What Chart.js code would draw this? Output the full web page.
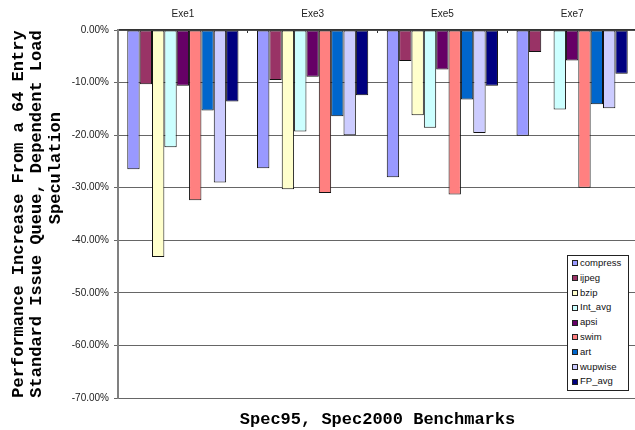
<!DOCTYPE html>
<html>
<head>
<meta charset="utf-8">
<script src="https://cdn.jsdelivr.net/npm/chart.js@4/dist/chart.umd.min.js"></script>
<style>
  html, body { margin: 0; padding: 0; background: #fff; overflow: hidden; }
  #wrap { position: relative; width: 635px; height: 430px; overflow: hidden; }
  canvas { display: block; }
  #legend {
    position: absolute; left: 567px; top: 255px; width: 56px; height: 134px;
    border: 1px solid #222; background: #fff; padding: 0 0 0 4px;
    font-family: "Liberation Sans", Arial, sans-serif; font-size: 9.5px; color: #111;
  }
  #legend .it { height: 14.8px; line-height: 14.8px; white-space: nowrap; display: flex; align-items: center; }
  #legend .sw { width: 4px; height: 4px; border: 1px solid #222; margin-right: 2px; flex: none; }
</style>
</head>
<body>
<div id="wrap">
  <canvas id="c" width="637" height="430"></canvas>
  <div id="legend"></div>
</div>
<script>
// ---- data ----
const categories = ['Exe1', 'Exe3', 'Exe5', 'Exe7'];
const seriesNames = ['compress', 'ijpeg', 'bzip', 'Int_avg', 'apsi', 'swim', 'art', 'wupwise', 'FP_avg'];
const compress = [-26.5, -26.3, -28.0, -20.1];
const ijpeg    = [-10.3, -9.5, -5.9, -4.2];
const bzip     = [-43.2, -30.3, -16.2, -0.2];
const intAvg   = [-22.3, -19.3, -18.6, -15.1];
const apsi     = [-10.6, -8.9, -7.5, -5.8];
const swim     = [-32.4, -31.0, -31.3, -30.0];
const art      = [-15.3, -16.4, -13.2, -14.1];
const wupwise  = [-29.0, -20.0, -19.6, -14.9];
const fpAvg    = [-13.6, -12.4, -10.6, -8.3];
const yTicks = [0, -10, -20, -30, -40, -50, -60, -70];
const yTitle = ['Performance Increase From a 64 Entry', 'Standard Issue Queue, Dependent Load', '         Speculation'];
const xTitle = 'Spec95, Spec2000 Benchmarks';

const seriesValues = [compress, ijpeg, bzip, intAvg, apsi, swim, art, wupwise, fpAvg];
const colors = ['#9999FF', '#993366', '#FFFFCC', '#CCFFFF', '#660066', '#FF8080', '#0066CC', '#CCCCFF', '#000080'];

const datasets = seriesNames.map((n, i) => ({
  label: n,
  data: seriesValues[i],
  backgroundColor: colors[i],
  borderColor: '#111',
  borderWidth: 1,
  borderSkipped: false,
  categoryPercentage: 0.857,
  barPercentage: 1.0,
  xAxisID: 'x',
  yAxisID: 'y'
}));

// HTML legend built from the same arrays
const lg = document.getElementById('legend');
seriesNames.forEach((n, i) => {
  const d = document.createElement('div'); d.className = 'it';
  const s = document.createElement('span'); s.className = 'sw'; s.style.background = colors[i];
  const t = document.createElement('span'); t.textContent = n;
  d.appendChild(s); d.appendChild(t); lg.appendChild(d);
});

new Chart(document.getElementById('c'), {
  type: 'bar',
  data: { labels: categories, datasets },
  options: {
    responsive: false,
    animation: false,
    layout: { padding: 0 },
    plugins: { legend: { display: false }, tooltip: { enabled: false }, title: { display: false } },
    scales: {
      x: {
        position: 'top',
        grid: { display: true, drawOnChartArea: false, offset: true, tickLength: -3, color: '#333', lineWidth: 1 },
        border: { display: true, color: '#333', width: 1.5 },
        ticks: { font: { family: 'Liberation Sans', size: 10 }, color: '#222', padding: 13 },
        afterFit: s => { s.height = 30; }
      },
      x2: {
        type: 'category',
        labels: categories,
        position: 'bottom',
        grid: { display: false },
        border: { display: false },
        ticks: { display: false },
        title: {
          display: true, text: xTitle, color: '#000',
          font: { family: 'Liberation Mono', size: 17, weight: 'bold', lineHeight: 1.1 },
          padding: { top: 0, bottom: 1 }
        },
        afterFit: s => { s.height = 32; }
      },
      y: {
        min: -70, max: 0,
        afterBuildTicks: s => { s.ticks = yTicks.map(v => ({ value: v })); },
        grid: { color: '#666', lineWidth: 1, tickLength: 4, tickColor: '#666' },
        border: { display: true, color: '#808080', width: 2 },
        ticks: {
          font: { family: 'Liberation Sans', size: 10 }, color: '#222', padding: 5,
          callback: v => Number(v).toFixed(2) + '%'
        },
        title: {
          display: true, text: yTitle, color: '#000',
          font: { family: 'Liberation Mono', size: 17, weight: 'bold', lineHeight: 1.1 },
          padding: { top: 9, bottom: 0 }
        },
        afterFit: s => { s.width = 118; }
      }
    }
  }
});
</script>
</body>
</html>
